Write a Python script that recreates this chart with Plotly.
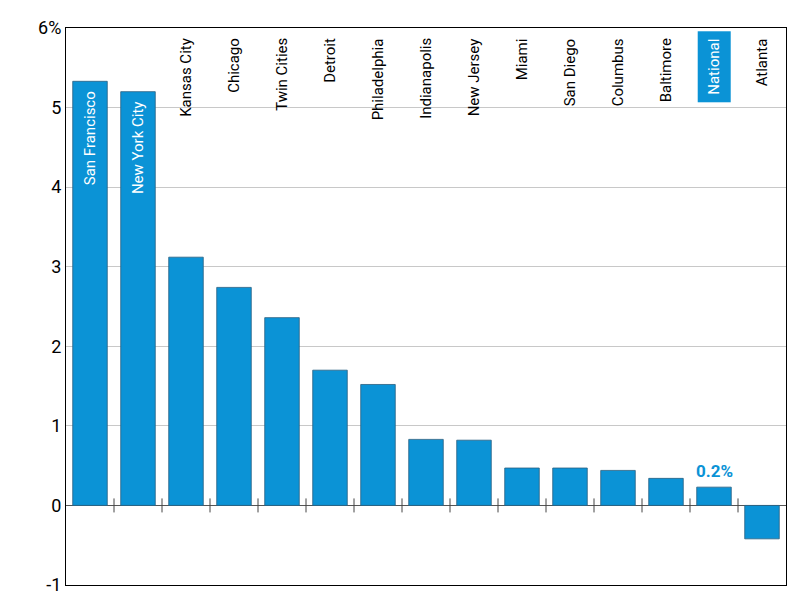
import plotly.graph_objects as go

cities = ["San Francisco", "New York City", "Kansas City", "Chicago", "Twin Cities",
          "Detroit", "Philadelphia", "Indianapolis", "New Jersey", "Miami",
          "San Diego", "Columbus", "Baltimore", "National", "Atlanta"]
values = [5.33, 5.2, 3.12, 2.74, 2.36, 1.7, 1.52, 0.83, 0.82, 0.47, 0.47, 0.44, 0.34, 0.23, -0.42]
y_ticks = [-1, 0, 1, 2, 3, 4, 5, 6]
y_ticklabels = ["-1", "0", "1", "2", "3", "4", "5", "6%"]

BLUE = "#0b93d6"
FONT = "Liberation Sans Narrow, Roboto, Arial"

fig = go.Figure()
x = list(range(len(cities)))
fig.add_trace(go.Bar(
    x=x, y=values, width=0.72,
    marker=dict(color=BLUE, line=dict(color="#2a5f80", width=0.8)),
    showlegend=False, hoverinfo="skip",
))
# small tick marks between categories on the zero line
fig.add_trace(go.Scatter(
    x=[i + 0.5 for i in x[:-1]], y=[0] * (len(x) - 1), mode="markers",
    marker=dict(symbol="line-ns", size=10, line=dict(color="#444", width=1)),
    showlegend=False, hoverinfo="skip",
))

for i, (c, v) in enumerate(zip(cities, values)):
    if v > 4:
        fig.add_annotation(x=i, y=v - 0.1, yanchor="top", text=c, textangle=-90,
                           showarrow=False, font=dict(color="white", size=15, family=FONT))
    elif c == "National":
        fig.add_annotation(x=i, y=0.995, yref="paper", yanchor="top", text=c,
                           textangle=-90, showarrow=False, bgcolor=BLUE,
                           borderpad=7,
                           font=dict(color="white", size=15, family=FONT))
        fig.add_annotation(x=i, y=v, yanchor="bottom", yshift=4, text="<b>0.2%</b>",
                           showarrow=False, font=dict(color=BLUE, size=17, family=FONT))
    else:
        fig.add_annotation(x=i, y=0.985, yref="paper", yanchor="top", text=c,
                           textangle=-90, showarrow=False,
                           font=dict(color="black", size=15, family=FONT))

fig.update_layout(
    width=800, height=600,
    margin=dict(l=58, r=22, t=20, b=23),
    plot_bgcolor="white", paper_bgcolor="white",
    font=dict(family=FONT, size=18, color="black"),
    xaxis=dict(range=[-0.5, len(cities) - 0.5], showticklabels=False, showgrid=False,
               zeroline=False, showline=True, mirror=True, linecolor="black", linewidth=1,
               automargin=False),
    yaxis=dict(range=[-1, 6], tickvals=y_ticks, ticktext=y_ticklabels, showgrid=True,
               gridcolor="#c8c8c8", zeroline=True, zerolinecolor="#555", zerolinewidth=1,
               showline=True, mirror=True, linecolor="black", linewidth=1, ticks="",
               automargin=False),
)

fig.write_html("out.html")
